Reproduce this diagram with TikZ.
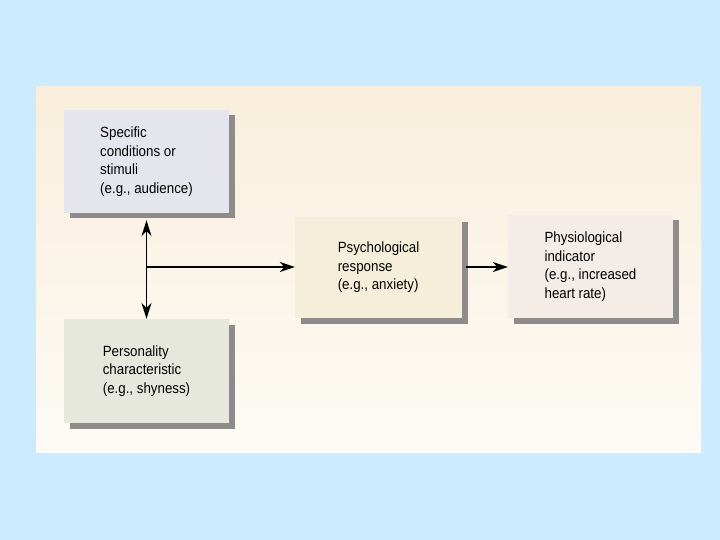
\documentclass[tikz,border=0pt]{standalone}
\usepackage{fontspec}
\setmainfont{Liberation Sans}[FakeStretch=0.9]
\usetikzlibrary{arrows.meta,shadows}
\definecolor{bgblue}{HTML}{CCEBFF}
\definecolor{paneltop}{HTML}{F9EEDB}
\definecolor{panelbot}{HTML}{FDFBF6}
\definecolor{boxa}{HTML}{E5E5EE}
\definecolor{boxb}{HTML}{E6E8DE}
\definecolor{boxc}{HTML}{F5EEDB}
\definecolor{boxd}{HTML}{F4ECE7}
\definecolor{shadowgray}{HTML}{8E8C8A}
\tikzset{
  infobox/.style={rectangle, minimum width=165pt, align=left, inner sep=0pt,
    font=\fontsize{14.8}{18.6}\selectfont, text=black,
    drop shadow={shadow xshift=6pt, shadow yshift=-5.5pt, fill=shadowgray, opacity=1}},
  conn/.style={draw=black, line width=1.3pt, -{Stealth[length=15pt,width=10pt,inset=4.5pt]}},
  dconn/.style={draw=black, line width=1.6pt, {Stealth[length=16pt,width=10pt,inset=5pt]}-{Stealth[length=16pt,width=10pt,inset=5pt]}}
}
\begin{document}
\begin{tikzpicture}[x=1pt,y=-1pt]
\useasboundingbox (0,0) rectangle (720,540);
\fill[bgblue] (0,0) rectangle (720,540);
\shade[top color=paneltop, bottom color=panelbot] (36,87) rectangle (701,452);
\node[infobox, fill=boxa, minimum height=103pt] (b1) at (146.5,161.5)
  {Specific\\conditions or\\stimuli\\(e.g., audience)};
\node[infobox, fill=boxb, minimum height=104pt] (b2) at (146.5,371)
  {Personality\\characteristic\\(e.g., shyness)};
\node[infobox, fill=boxc, minimum width=167pt, minimum height=101pt] (b3) at (378.5,267.5)
  {Psychological\\response\\(e.g., anxiety)};
\node[infobox, fill=boxd, minimum width=165pt, minimum height=103pt] (b4) at (590.5,266.5)
  {Physiological\\indicator\\(e.g., increased\\heart rate)};
\coordinate (top) at ([yshift=-7pt]b1.south);
\coordinate (j) at (147,267);
\draw[dconn] (top) -- (b2.north);
\draw[conn] (j) -- (j -| b3.west);
\draw[conn] ([xshift=4pt]b3.east |- j) -- (j -| b4.west);
\end{tikzpicture}
\end{document}
